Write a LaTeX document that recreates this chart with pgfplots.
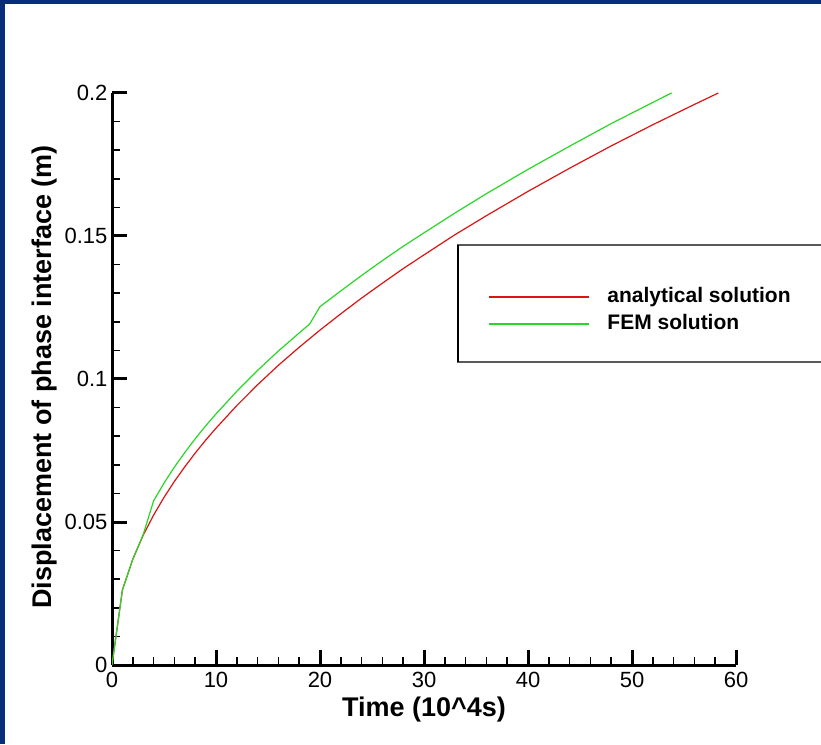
\documentclass[border=0pt]{standalone}
\usepackage{fontspec}
\setmainfont{Liberation Sans}
\usepackage{pgfplots}
\pgfplotsset{compat=1.18}
\definecolor{frameblue}{RGB}{8,45,125}
\definecolor{anared}{RGB}{220,20,20}
\definecolor{femgreen}{RGB}{40,215,40}
\begin{document}
\begin{tikzpicture}[x=1pt,y=1pt]
\fill[white] (0,0) rectangle (821,744);
\useasboundingbox (0,0) rectangle (821,744);
\fill[frameblue] (0,740) rectangle (821,744);
\fill[frameblue] (0,0) rectangle (5,744);
\begin{axis}[
  at={(112pt,79pt)}, anchor=south west,
  scale only axis, width=624pt, height=572pt,
  xmin=0, xmax=60, ymin=0, ymax=0.2,
  axis x line=bottom, axis y line=left,
  axis line style={-, line width=3pt, black},
  xtick={0,10,...,60},
  ytick={0,0.05,0.1,0.15,0.2},
  yticklabels={0,0.05,0.1,0.15,0.2},
  minor tick num=4,
  tick align=inside,
  major tick length=15pt, minor tick length=8pt,
  major tick style={line width=3pt, black},
  minor tick style={line width=1.5pt, black},
  /pgf/number format/assume math mode=true,
  tick label style={font=\fontsize{22}{22}\selectfont},
  xticklabel style={yshift=-4pt},
  yticklabel style={xshift=-1pt},
  xlabel={Time (10\^{}4s)},
  ylabel={Displacement of phase interface (m)},
  label style={font=\bfseries\fontsize{27}{27}\selectfont},
  xlabel style={at={(axis description cs:0.5,-0.077)}, anchor=center},
  ylabel style={at={(axis description cs:-0.1074,0.5035)}, anchor=center},
  legend style={draw=none, fill=none, inner sep=0pt,
    at={(axis description cs:0.6026,0.6198)}, anchor=west,
    font=\bfseries\fontsize{21}{21}\selectfont,
    nodes={inner sep=0pt, text height=15pt, text depth=4pt},
    row sep=8pt,
    /tikz/every odd column/.append style={column sep=18pt}},
  legend cell align=left,
  legend image code/.code={\draw[#1] (0pt,0pt) -- (100pt,0pt);},
]
\addplot[anared, line width=1.2pt] coordinates {
(0,0) (1,0.0262) (2,0.0370) (3,0.0454) (4,0.0524) (5,0.0586) (6,0.0642)
(7,0.0693) (8,0.0741) (9,0.0786) (10,0.0828) (12,0.0907) (14,0.0980)
(16,0.1048) (18,0.1111) (20,0.1171) (22,0.1228) (24,0.1283) (26,0.1335)
(28,0.1386) (30,0.1434) (33,0.1505) (36,0.1571) (40,0.1656) (44,0.1737)
(48,0.1815) (52,0.1889) (56,0.1960) (58.3,0.2000)};
\addlegendentry{analytical solution}
\addplot[femgreen, line width=1.2pt] coordinates {
(0,0) (1,0.0262) (2,0.0370) (3,0.0456) (4,0.0574) (5,0.0636) (6,0.0692)
(7,0.0743) (8,0.0791) (9,0.0836) (10,0.0878) (12,0.0957) (14,0.1030)
(16,0.1098) (18,0.1161) (19,0.1192) (20,0.1253) (22,0.1308) (24,0.1362)
(26,0.1414) (28,0.1464) (30,0.1511) (33,0.1581) (36,0.1648) (40,0.1733)
(44,0.1814) (48,0.1893) (52,0.1967) (53.8,0.2000)};
\addlegendentry{FEM solution}
\end{axis}
\draw[black!65, line width=1.5pt] (458,499) rectangle (825,382);
\draw[black, line width=1.5pt] (458,499) -- (458,382);
\end{tikzpicture}
\end{document}
